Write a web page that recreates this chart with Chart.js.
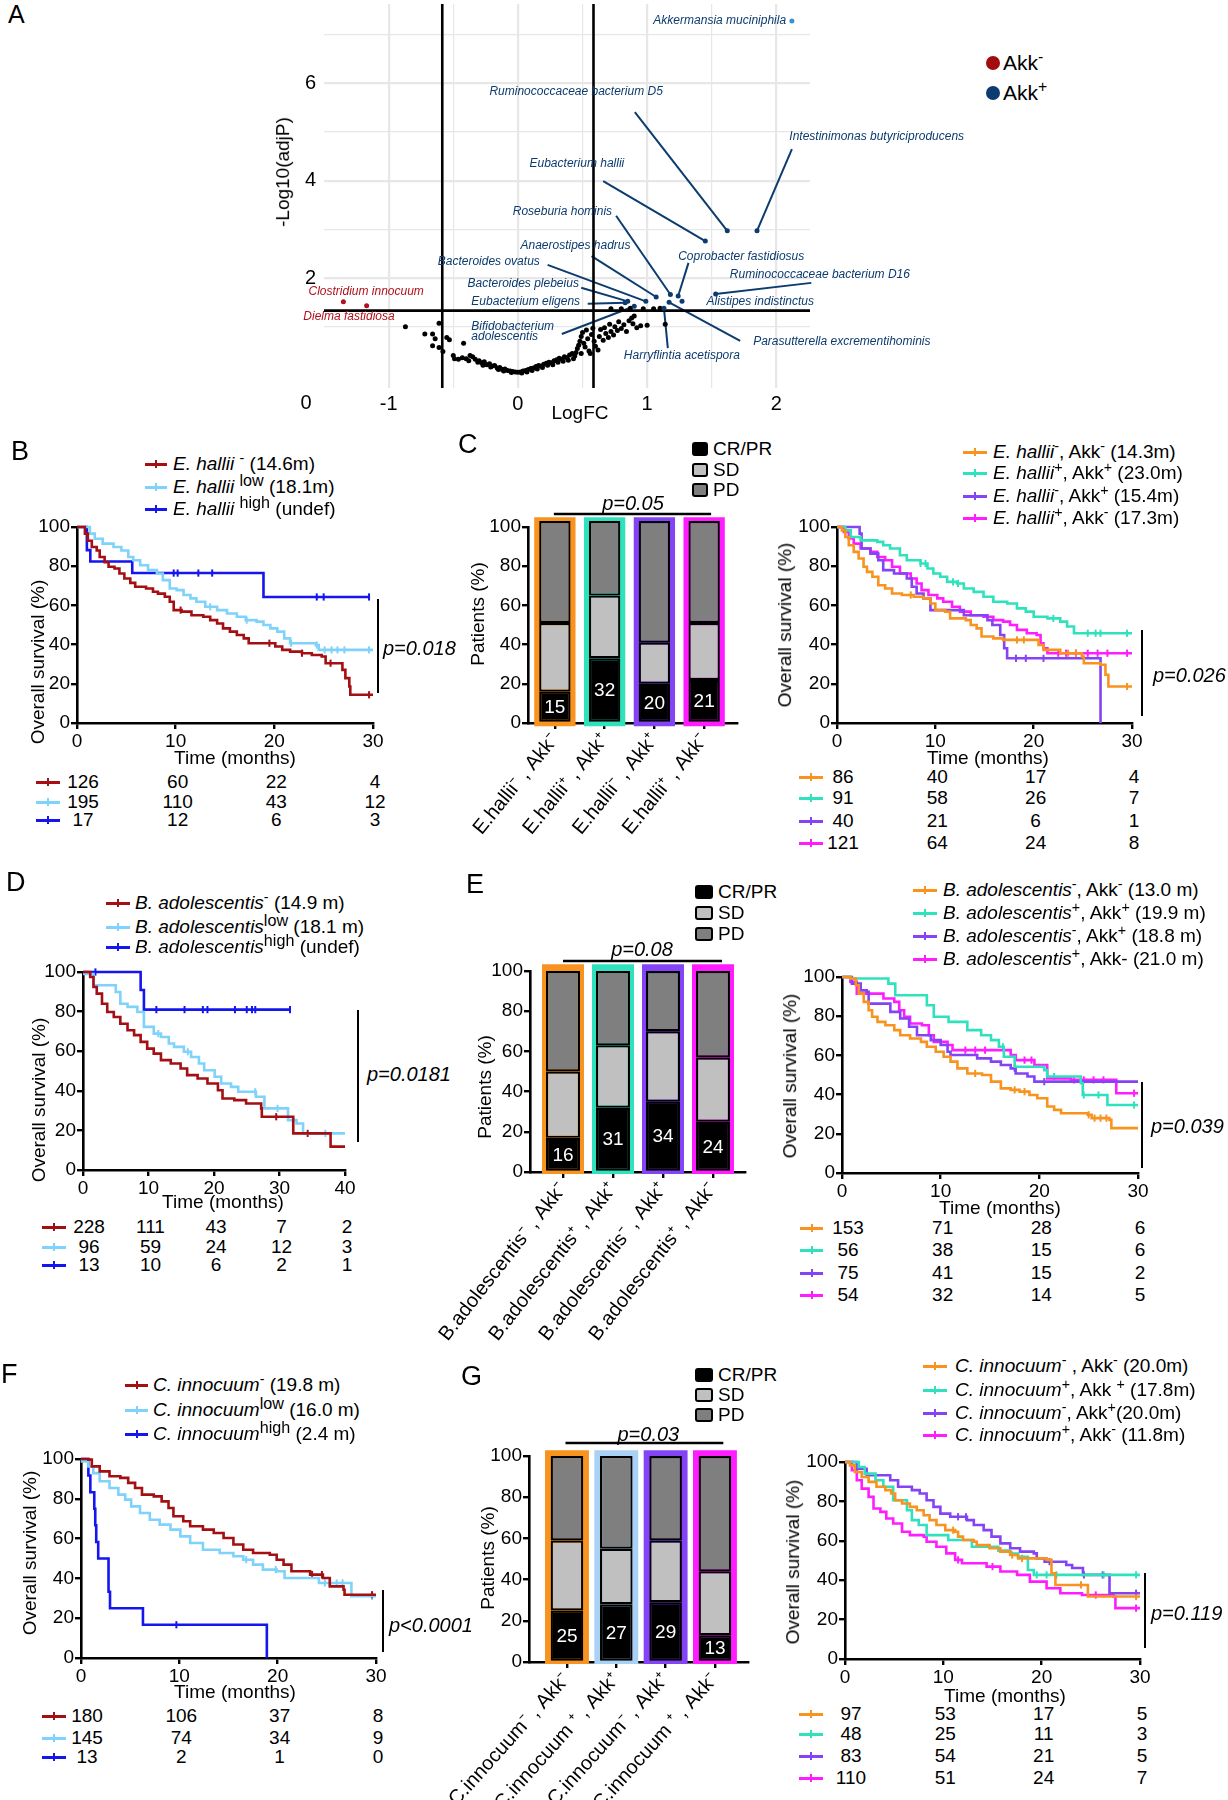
<!DOCTYPE html>
<html><head><meta charset="utf-8">
<script src="https://cdn.jsdelivr.net/npm/chart.js@4.4.1/dist/chart.umd.min.js"></script>
<style>
html,body{margin:0;padding:0;background:#fff}
body{position:relative;width:1228px;height:1800px;overflow:hidden;font-family:"Liberation Sans",Arial,Helvetica,sans-serif;color:#000}
.t{position:absolute;white-space:nowrap;line-height:1.15}
.t sup{font-size:0.75em;line-height:0;vertical-align:0.5em}
.t sup.w{font-size:0.85em;vertical-align:0.45em}
canvas{position:absolute}
</style></head><body>
<script>
// ======================= DATA =======================
// ---- Panel A : volcano ----
const volcTaxa = ['Akkermansia muciniphila','Ruminococcaceae bacterium D5','Intestinimonas butyriciproducens','Eubacterium hallii','Roseburia hominis','Anaerostipes hadrus','Coprobacter fastidiosus','Bacteroides ovatus','Ruminococcaceae bacterium D16','Bacteroides plebeius','Alistipes indistinctus','Eubacterium eligens','Bifidobacterium adolescentis','Parasutterella excrementihominis','Harryflintia acetispora','Clostridium innocuum','Dielma fastidiosa'];
const volcLogFC = [2.12,1.62,1.85,1.45,1.18,1.07,1.24,0.99,1.53,0.85,1.27,0.83,0.90,1.17,1.13,-1.35,-1.17];
const volcNegLog10P = [7.28,2.97,2.97,2.76,1.66,1.61,1.63,1.52,1.67,1.52,1.52,1.49,1.42,1.50,1.38,1.51,1.43];
const volcGroup = ['Akk','Akk+','Akk+','Akk+','Akk+','Akk+','Akk+','Akk+','Akk+','Akk+','Akk+','Akk+','Akk+','Akk+','Akk+','Akk-','Akk-'];
const volcLegend = ['Akk-','Akk+'];
const bgPoints = [[-0.87,1.00],[-0.61,1.07],[-0.72,0.85],[-0.66,0.85],[-0.64,0.75],[-0.66,0.61],[-0.61,0.57],[-0.58,0.49],[-0.55,0.78],[-0.53,0.73],[-0.42,0.66],[-0.50,0.41],[-0.49,0.34],[-0.46,0.33],[-0.43,0.36],[-0.40,0.34],[-0.37,0.41],[-0.38,0.30],[-0.35,0.38],[-0.33,0.33],[-0.31,0.27],[-0.30,0.30],[-0.28,0.26],[-0.27,0.21],[-0.26,0.28],[-0.24,0.22],[-0.22,0.24],[-0.21,0.17],[-0.20,0.19],[-0.18,0.20],[-0.16,0.15],[-0.15,0.12],[-0.14,0.16],[-0.12,0.12],[-0.11,0.09],[-0.10,0.13],[-0.08,0.10],[-0.06,0.09],[-0.05,0.06],[-0.04,0.08],[-0.02,0.07],[0.00,0.065],[0.02,0.07],[0.03,0.05],[0.04,0.09],[0.06,0.10],[0.07,0.07],[0.08,0.12],[0.10,0.14],[0.11,0.10],[0.12,0.15],[0.14,0.18],[0.15,0.13],[0.16,0.20],[0.18,0.19],[0.19,0.16],[0.20,0.23],[0.22,0.25],[0.23,0.21],[0.24,0.27],[0.26,0.26],[0.27,0.22],[0.28,0.30],[0.30,0.32],[0.31,0.27],[0.32,0.35],[0.34,0.33],[0.35,0.29],[0.36,0.38],[0.38,0.36],[0.39,0.31],[0.40,0.42],[0.42,0.45],[0.43,0.34],[0.44,0.40],[0.45,0.47],[0.46,0.55],[0.47,0.62],[0.48,0.70],[0.49,0.80],[0.49,0.45],[0.50,0.88],[0.51,0.66],[0.52,0.58],[0.53,0.93],[0.54,0.75],[0.55,0.50],[0.56,0.45],[0.57,0.84],[0.58,0.97],[0.59,0.70],[0.60,0.60],[0.62,0.52],[0.63,0.80],[0.64,0.94],[0.66,0.72],[0.67,0.98],[0.68,0.86],[0.70,0.78],[0.71,1.05],[0.72,0.90],[0.74,0.83],[0.75,1.00],[0.77,0.92],[0.78,1.10],[0.80,0.96],[0.82,1.04],[0.84,0.90],[0.86,1.12],[0.88,1.18],[0.89,1.06],[0.90,1.22],[0.92,0.98],[0.95,1.02],[1.00,1.03],[1.14,1.05],[0.72,1.37],[0.80,1.37],[0.87,1.38],[0.97,1.37],[1.05,1.37],[1.10,1.38]];
const fcCut = 0.585, pCut = 1.33;
const volcXTicks = [-1,-0.5,0,0.5,1,1.5,2];
const volcYTicks = [1,2,3,4,5,6,7];

// ---- KM common ----
const kmYTicks = [0,20,40,60,80,100];
const km30Ticks = [0,10,20,30];
const km40Ticks = [0,10,20,30,40];

// ---- Panel B ----
const bNeg = [[0,100],[0.4,100],[0.8,96.6],[1.1,93],[1.5,89.8],[2,88],[2.3,84.7],[2.8,82],[3.2,79.7],[3.8,78.8],[4.3,76.3],[4.8,73.7],[5.4,71.5],[5.9,69.5],[7.0,68.6],[7.7,67],[8.2,66],[8.9,64.4],[9.4,61.9],[9.8,57.6],[10.6,56.8],[11.6,55],[12.8,54.2],[13.5,52.5],[14.2,50.8],[14.8,48.3],[15.5,46.6],[16.2,44.9],[16.9,43.2],[17.4,40.7],[19.3,40.7],[20.1,39],[20.8,37.3],[21.6,36.4],[22.8,35.6],[23.8,34.7],[24.8,33.9],[25.2,30.5],[26.9,27.1],[27.2,22.9],[27.6,18.6],[27.7,14.4],[30,14.4]];
const bLow = [[0,100],[0.9,100],[1.3,96.6],[1.8,94],[2.6,91.5],[3.7,89.8],[4.5,88],[5.2,84.7],[5.7,83],[6.4,80.5],[7.2,78],[8.1,76.3],[8.7,72.9],[9.4,68.6],[10.1,67.8],[10.8,65.3],[11.5,63.6],[12.1,61.9],[13,59.3],[14.2,57.6],[15.2,55.9],[16.2,54.2],[17.1,52.5],[18.2,51.7],[18.9,50],[19.6,48.3],[20.3,46.6],[21,43.2],[21.6,40.7],[24.2,39.8],[24.5,37.3],[30,37.3]];
const bHigh = [[0,100],[1.0,88.2],[1.35,82.4],[5.6,76.5],[18.9,64.3],[29.6,64.3]];
const bNegCens = [10.5,19.5,22.8,25.7,29.6];
const bLowCens = [13.5,17.2,21.7,24.3,25.1,25.8,26.4,27.1,29.6];
const bHighCens = [9.8,10.2,12.3,13.7,24.3,25,29.6];
const bRisk = [[126,60,22,4],[195,110,43,12],[17,12,6,3]];
const bLegend = ['<i>E. hallii</i> <sup>-</sup> (14.6m)','<i>E. hallii</i> <sup class="w">low</sup> (18.1m)','<i>E. hallii</i> <sup class="w">high</sup> (undef)'];

// ---- Panel C (bars) ----
const respLabels = ['CR/PR','SD','PD'];
const cCats = ['E.hallii⁻ , Akk⁻','E.hallii⁺ , Akk⁺','E.hallii⁻ , Akk⁺','E.hallii⁺ , Akk⁻'];
const cCR = [16,33,20,22];
const cSD = [35,32,21,29];
const cPD = [52,38,62,52];
const cN = [15,32,20,21];

// ---- Panel C (KM) ----
const cOrange = [[0,100],[0.5,98.3],[0.85,94.9],[1.2,90.7],[1.7,87.3],[2.2,83.9],[2.7,79.7],[3.05,77.1],[3.6,74.6],[4.2,70.3],[4.9,68.6],[5.6,66.1],[6.6,65.3],[7.8,64.4],[8.8,63.6],[9.5,61],[10,57.6],[11,56.8],[11.5,53.4],[13.1,52.5],[13.6,50],[14.2,48.3],[14.7,44.1],[15.9,43.2],[16.9,42.4],[20.2,42.4],[20.5,39.8],[21,37.3],[22.7,35.6],[24.9,33.9],[25.1,30.5],[26.8,29.7],[27.3,24.6],[27.6,18.6],[30,18.6]];
const cTeal = [[0,100],[0.85,98.3],[1.4,94.9],[2.4,93.2],[4.1,92.4],[4.7,90.7],[5.4,89],[6.4,85.6],[7.1,83],[8.5,81.4],[9.2,78.8],[9.8,76.3],[10.5,74.6],[11.2,72],[12.2,71.2],[12.9,68.6],[13.9,66.9],[14.9,64.4],[15.9,61.9],[17.3,61],[18.3,58.5],[19.2,56.8],[20,54.2],[21.4,53.4],[22.7,51.7],[23.4,49.2],[24.1,45.8],[30,45.8]];
const cPurple = [[0,100],[2.3,96.6],[2.5,89],[3.4,86.4],[4.2,83],[4.7,78],[5.8,76.3],[7.1,73.7],[7.6,69.5],[8.1,66.1],[8.8,63.6],[9.5,57.6],[12.9,55],[15.3,52.5],[15.8,50],[16.6,44.9],[17,38.1],[17.3,33],[26.8,33],[26.8,0]];
const cMagenta = [[0,100],[0.7,97.5],[1.2,94.1],[1.7,91.5],[2.4,89],[3.4,87.3],[4.1,84.7],[4.9,83],[5.6,79.7],[6.4,76.3],[7.5,73.7],[8.1,71.2],[8.6,67.8],[9.3,65.3],[10.2,63.6],[10.8,61.9],[11.7,59.3],[12.5,56.8],[13.6,55],[14.9,54.2],[15.9,52.5],[16.9,51.7],[17.6,50],[18.3,47.5],[19.3,45.8],[20.3,44.9],[20.7,40.7],[21,38.1],[21.4,35.6],[30,35.6]];
const cOrangeCens = [7.5,18.3,19,23.5,24.3,29.5];
const cTealCens = [8.5,9,11.8,12.3,22,25.5,26.3,26.8,29.5];
const cPurpleCens = [18.2,19.2,21];
const cMagentaCens = [22.5,23.3,24.3,25.5,26.5,27.5,29.5];
const cRisk = [[86,40,17,4],[91,58,26,7],[40,21,6,1],[121,64,24,8]];
const cLegend = ['<i>E. hallii</i><sup>-</sup>, Akk<sup>-</sup> (14.3m)','<i>E. hallii</i><sup>+</sup>, Akk<sup>+</sup> (23.0m)','<i>E. hallii</i><sup>-</sup>, Akk<sup>+</sup> (15.4m)','<i>E. hallii</i><sup>+</sup>, Akk<sup>-</sup> (17.3m)'];

// ---- Panel D ----
const dNeg = [[0,100],[0.4,100],[1.1,97.5],[1.6,92.4],[2.1,89.1],[2.9,84],[3.7,79.8],[4.7,77.3],[5.7,73.9],[6.8,70.6],[7.8,68.1],[8.8,64.7],[9.8,61.3],[10.8,58.8],[11.9,55.5],[13.4,53.8],[14.9,51.3],[15.9,47.9],[17.5,46.2],[19,43.7],[20.6,40.3],[21.3,36.1],[23.1,35.3],[24.9,33.6],[27.2,31.1],[27.3,26.9],[31.3,26.9],[32.1,18.5],[37.7,18.5],[37.8,11.8],[40,11.8]];
const dLow = [[0,100],[0.2,99],[1.6,93.3],[4.2,93.3],[5,89.9],[5.7,84],[6.8,82.4],[8.3,79.8],[9.3,72.3],[10.8,68.9],[11.9,67.2],[13.1,63.9],[13.9,62.2],[15.4,59.7],[16.5,57.1],[17.7,53.8],[18.5,50.4],[20.1,47.1],[21.1,43.7],[22.6,42],[23.7,39.5],[26.4,37],[27.7,31.1],[30.8,31.1],[31.3,25.2],[32.6,23.5],[33.6,18.5],[40,18.5]];
const dHigh = [[0,100],[8.8,90.9],[9.3,81],[31.6,81]];
const dNegCens = [29.5,34.3];
const dLowCens = [11.5,16,26.3,29.7,37];
const dHighCens = [1.9,11.2,15.5,18.3,19,23.2,25,25.8,26.3,31.6];
const dRisk = [[228,111,43,7,2],[96,59,24,12,3],[13,10,6,2,1]];
const dLegend = ['<i>B. adolescentis</i><sup>-</sup> (14.9 m)','<i>B. adolescentis</i><sup class="w">low</sup> (18.1 m)','<i>B. adolescentis</i><sup class="w">high</sup> (undef)'];

// ---- Panel E (bars) ----
const eCats = ['B.adolescentis⁻ , Akk⁻','B.adolescentis⁺ , Akk⁺','B.adolescentis⁻ , Akk⁺','B.adolescentis⁺ , Akk⁻'];
const eCR = [17,32,35,25];
const eSD = [33,31,35,32];
const ePD = [50,37,30,43];
const eN = [16,31,34,24];

// ---- Panel E (KM) ----
const eOrange = [[0,100],[0.85,99.2],[1.4,95.8],[1.7,91.5],[2.2,87.3],[2.7,83],[3.05,79.7],[3.6,77.1],[4.4,75.4],[5.3,72.9],[5.9,70.3],[6.9,68.6],[8,66.9],[8.6,64.4],[9.5,61.9],[10.3,59.3],[11,56.8],[11.7,53.4],[12.7,50.8],[14.2,50],[15.1,46.6],[16.1,43.2],[17.1,42.4],[18,41.5],[19,39.8],[19.8,38.1],[20.8,33.9],[21.5,32.2],[22.2,30.5],[24.9,29.7],[25.3,28],[27.1,27.1],[27.3,22.9],[30,22.9]];
const eTeal = [[0,100],[0.85,99.2],[4.4,99.2],[4.7,96.6],[5.4,90.7],[8.3,90.7],[8.6,85.6],[9.3,79.7],[10.8,77.1],[12.7,72.9],[14.1,70.3],[15.1,67.8],[15.9,64.4],[16.4,59.3],[17.5,54.2],[20.5,52.5],[20.8,49.2],[22.9,49.2],[24.2,45.8],[24.4,39.8],[26.8,39.8],[26.9,34.7],[30,34.7]];
const ePurple = [[0,100],[1,96.6],[1.9,93.2],[2.5,92.4],[2.7,86.4],[3.9,86.4],[4.9,82.2],[5.9,78.8],[6.8,74.6],[7.6,70.3],[9,67.8],[10,65.3],[10.7,61.9],[11,60.2],[13.2,60.2],[13.7,58.5],[15.1,56.8],[16.1,55.1],[17.1,53.4],[17.6,50.8],[18.8,49.2],[19.5,46.6],[30,46.6]];
const eMagenta = [[0,100],[0.85,97.5],[1.5,91.5],[3.6,91.5],[4.2,89],[5.3,87.3],[5.8,83],[6.3,79.7],[6.9,76.3],[8.1,75.4],[8.8,70.3],[9.3,66.9],[10.7,65.3],[11.2,62.7],[17.1,60.2],[17.6,57.6],[19.5,55.1],[20.8,48.3],[23.2,47.5],[27.6,47.5],[27.8,40.7],[30,40.7]];
const eOrangeCens = [13.5,17.5,18.5,25,25.6,26.2,26.8];
const eTealCens = [16.3,21.5,24.5,26,29.6];
const ePurpleCens = [17.5,20.5];
const eMagentaCens = [12.5,13.5,14.5,18.5,19.2,23.5,24.5,25.5,26.5,29.6];
const eRisk = [[153,71,28,6],[56,38,15,6],[75,41,15,2],[54,32,14,5]];
const eLegend = ['<i>B. adolescentis</i><sup>-</sup>, Akk<sup>-</sup> (13.0 m)','<i>B. adolescentis</i><sup>+</sup>, Akk<sup>+</sup> (19.9 m)','<i>B. adolescentis</i><sup>-</sup>, Akk<sup>+</sup> (18.8 m)','<i>B. adolescentis</i><sup>+</sup>, Akk- (21.0 m)'];

// ---- Panel F ----
const fNeg = [[0,100],[0.75,99.7],[1.1,96.3],[1.9,93.8],[2.9,91.3],[4,90.5],[4.8,88],[5.5,85.4],[6.2,82.1],[7.4,81.2],[8.2,78.7],[8.9,75.4],[9.4,71.2],[10.4,68.7],[11.1,66.2],[12.4,64.5],[13.5,62.8],[14.5,60.3],[15.5,57],[16.5,54.4],[17.5,52.8],[19.2,51.9],[19.9,49.4],[20.6,46.9],[21.4,43.6],[23.3,41.9],[24.6,40.2],[25.3,36],[26.7,34.3],[26.8,31.8],[30,31.8]];
const fLow = [[0,100],[0.1,98.8],[0.75,96.3],[1.25,92.9],[1.9,88.8],[2.9,85.4],[3.8,82.1],[4.5,79.6],[5.1,76.2],[6,72.9],[7,69.5],[8,67],[9.1,64.5],[10.1,61.1],[11.1,57.8],[12.4,54.4],[14.1,52.8],[15.5,51.1],[16.5,49.4],[17.5,46.9],[18.5,44.4],[19.9,43.6],[20.7,40.2],[23.6,40.2],[24.2,37.7],[27.2,37.7],[27.5,31],[30,31]];
const fHigh = [[0,100],[0.75,91.7],[0.95,83.3],[1.35,75],[1.45,66.7],[1.55,58.3],[1.75,50],[2.8,33.3],[2.95,25],[6.3,16.7],[18.9,16.7],[18.9,0]];
const fNegCens = [23.5,24.5,29.6];
const fLowCens = [16.8,19.8,24.8,25.3,26,26.6,29.6];
const fHighCens = [9.7];
const fRisk = [[180,106,37,8],[145,74,34,9],[13,2,1,0]];
const fLegend = ['<i>C. innocuum</i><sup>-</sup> (19.8 m)','<i>C. innocuum</i><sup class="w">low</sup> (16.0 m)','<i>C. innocuum</i><sup class="w">high</sup> (2.4 m)'];

// ---- Panel G (bars) ----
const gCats = ['C.innocuum⁻ , Akk⁻','C.innocuum ⁺ , Akk⁺','C.innocuum⁻ , Akk⁺','C.innocuum ⁺ , Akk⁻'];
const gCR = [25,28,29,13];
const gSD = [34,27,30,31];
const gPD = [41,45,41,56];
const gN = [25,27,29,13];

// ---- Panel G (KM) ----
const gOrange = [[0,100],[0.5,98.3],[1,94.9],[1.7,92.4],[2.4,89.9],[3.2,87.4],[4.1,85.7],[4.7,84],[5.1,80.6],[5.8,78.9],[6.6,77.2],[7.3,75.5],[8,73],[8.6,70.5],[9.3,68],[10.2,65.4],[11.2,64.6],[11.5,62.1],[12,60.4],[13.1,59.5],[13.4,57.8],[14.7,56.2],[15.8,54.5],[16.8,52.8],[17.6,51.1],[20.5,50.3],[21,43.5],[21.4,37.6],[24.4,37.6],[24.7,31.7],[30,31.7]];
const gTeal = [[0,100],[1.4,97.5],[2,94.1],[3.1,90.7],[3.9,87.4],[4.9,80.6],[5.8,80.6],[6.3,75.5],[6.8,70.5],[7.5,68],[8.3,62.9],[9.8,62.9],[10.5,60.4],[12.7,60.4],[12.9,57],[15.1,57],[15.6,55],[16.8,53.5],[17.6,51.9],[18.6,45.2],[19.2,42.7],[30,42.7]];
const gPurple = [[0,100],[1.2,96.6],[2.2,93.3],[3.7,93.3],[4.6,90.7],[5.4,87.4],[6.8,85.7],[7.6,84],[8.3,80.6],[9,77.2],[9.7,73.8],[10.7,72.2],[12.4,70.5],[13.1,68],[14.1,65.4],[14.9,62.1],[15.8,58.7],[16.8,56.2],[17.8,54.5],[19.2,53.6],[19.5,51.1],[20.3,49.4],[22.5,47.7],[23.1,46.2],[24.2,42.7],[26.8,42.7],[26.9,33.4],[30,33.4]];
const gMagenta = [[0,100],[0.7,95.8],[1.2,90.7],[1.7,86.5],[2.4,82.3],[2.9,76.4],[3.6,74.7],[4.2,71.3],[4.9,68.8],[5.8,64.6],[6.6,62.9],[8,62.1],[8.3,59.5],[9.3,57],[10.3,53.6],[11.2,50.3],[11.9,48.6],[13.4,48.6],[14.4,46.9],[15.8,44.4],[17.5,42.7],[18.8,39.3],[20.5,35.9],[21.9,33.4],[24.1,32.5],[27.3,31.7],[27.5,25.8],[30,25.8]];
const gOrangeCens = [11,17,18,24,29.6];
const gTealCens = [19.5,20.5,21.5,26.3,29.6];
const gPurpleCens = [11.5,12.3,20.8,24.3,26.2,29.6];
const gMagentaCens = [11.5,15,25.5,29.6];
const gRisk = [[97,53,17,5],[48,25,11,3],[83,54,21,5],[110,51,24,7]];
const gLegend = ['<i>C. innocuum</i><sup>-</sup> , Akk<sup>-</sup> (20.0m)','<i>C. innocuum</i><sup>+</sup>, Akk <sup>+</sup> (17.8m)','<i>C. innocuum</i><sup>-</sup>, Akk<sup>+</sup>(20.0m)','<i>C. innocuum</i><sup>+</sup>, Akk<sup>-</sup> (11.8m)'];

// ======================= STYLE / LAYOUT =======================
const FONT = '"Liberation Sans", Arial, Helvetica, sans-serif';
const RED='#a30f12', LBLUE='#7fd3fb', BLUE='#1515ef', ORANGE='#f7931e', TEAL='#2fe2bd', PURPLE='#8443f4', MAGENTA='#ff1dff';
const NAVY='#0c3b6f', AKKRED='#b0121b', AKKBLUE='#3f8fd2';
const respColors = ['#000000','#c0c0c0','#7f7f7f'];
Chart.defaults.font.family = FONT;
Chart.defaults.color = '#000';

function box(x,y,w,h,bg,css){const d=document.createElement('div');d.style.cssText=`position:absolute;left:${x}px;top:${y}px;width:${w}px;height:${h}px;background:${bg};${css||''}`;document.body.appendChild(d);return d;}
function txt(x,y,html,o){o=o||{};const size=o.size||19,al=o.align||'l';const tx=al==='l'?'0':(al==='c'?'-50%':'-100%');const d=document.createElement('div');d.className='t';d.style.cssText=`left:${x}px;top:${y}px;font-size:${size}px;transform:translate(${tx},-50%)${o.rot?' rotate(-90deg)':''};${o.css||''}`;d.innerHTML=html;document.body.appendChild(d);return d;}
function sym(x1,x2,y,c){box(x1,y-1.5,x2-x1,3,c);box((x1+x2)/2-1,y-4,2.4,8,c);}
function stepAt(pts,t){let v=pts[0][1];for(const q of pts){if(q[0]<=t)v=q[1];else break;}return v;}

// Creates a chart whose plot area lands exactly on box b (page pixels); canvas size is corrected from the measured chartArea.
function place(b,m,mk){
  let W=Math.round(m.pl+m.yW+(b.R-b.L)+m.pr), H=Math.round(m.pt+(b.B-b.T)+m.xH+m.pb);
  let c=null,ch=null;
  for(let k=0;k<4;k++){
    if(ch){ch.destroy();c.remove();}
    c=document.createElement('canvas');c.width=W;c.height=H;
    c.style.cssText=`position:absolute;left:0px;top:0px;width:${W}px;height:${H}px;`;
    document.body.appendChild(c);
    const cfg=mk();const o=cfg.options;
    o.responsive=false;o.maintainAspectRatio=false;o.animation=false;o.devicePixelRatio=1;o.events=[];
    o.layout={autoPadding:false,padding:{left:m.pl,top:m.pt,right:m.pr,bottom:m.pb}};
    o.plugins=Object.assign({legend:{display:false},tooltip:{enabled:false},title:{display:false}},o.plugins||{});
    o.scales.x.afterFit=s=>{s.height=m.xH;s.paddingLeft=0;s.paddingRight=0;};
    o.scales.y.afterFit=s=>{s.width=m.yW;s.paddingTop=0;s.paddingBottom=0;};
    ch=new Chart(c,cfg);
    const a=ch.chartArea;
    const dw=Math.round((b.R-b.L)-(a.right-a.left)), dh=Math.round((b.B-b.T)-(a.bottom-a.top));
    if(dw===0&&dh===0)break;
    W+=dw;H+=dh;
  }
  const a=ch.chartArea;const left=b.L-a.left, top=b.T-a.top;
  c.style.left=left+'px';c.style.top=top+'px';
  ch.$ox=left;ch.$oy=top;return ch;
}
function fixedTicks(list){return s=>{s.ticks=list.map(v=>({value:v}));};}
function blackAxis(min,max,ticks,extra){
  return Object.assign({type:'linear',min,max,offset:false,afterBuildTicks:fixedTicks(ticks),
    grid:{drawOnChartArea:false,drawTicks:true,tickLength:6,color:'#000',lineWidth:2.4,offset:false},
    border:{display:true,color:'#000',width:2.6},
    ticks:{color:'#000',font:{family:FONT,size:19},padding:1,autoSkip:false,maxRotation:0,minRotation:0}},extra||{});
}

// ---------- Panel A ----------
(function(){
  const b={L:324,T:4,R:810,B:388};
  const X0=-1.5,X1=2.26,Y0=-0.26,Y1=7.63;
  const pts=g=>volcTaxa.map((n,i)=>({x:volcLogFC[i],y:volcNegLog10P[i],g:volcGroup[i]})).filter(p=>p.g===g);
  const labelPos={
    'Akkermansia muciniphila':{tx:2.075,ty:7.28,align:'right'},
    'Ruminococcaceae bacterium D5':{tx:-0.22,ty:5.82,lx:0.905,ly:5.41},
    'Intestinimonas butyriciproducens':{tx:2.10,ty:4.90,lx:2.12,ly:4.65},
    'Eubacterium hallii':{tx:0.09,ty:4.34,lx:0.66,ly:3.99},
    'Roseburia hominis':{tx:-0.04,ty:3.36,lx:0.76,ly:3.28},
    'Anaerostipes hadrus':{tx:0.02,ty:2.66,lx:0.57,ly:2.45},
    'Coprobacter fastidiosus':{tx:1.24,ty:2.43,lx:1.32,ly:2.31},
    'Bacteroides ovatus':{tx:-0.62,ty:2.33,lx:0.23,ly:2.27},
    'Ruminococcaceae bacterium D16':{tx:1.64,ty:2.06,lx:2.27,ly:1.90},
    'Bacteroides plebeius':{tx:-0.39,ty:1.88,lx:0.49,ly:1.80},
    'Alistipes indistinctus':{tx:1.46,ty:1.51},
    'Eubacterium eligens':{tx:-0.36,ty:1.51,lx:0.54,ly:1.47},
    'Bifidobacterium adolescentis':{tx:-0.36,ty:0.98,two:true,lx:0.34,ly:0.85},
    'Parasutterella excrementihominis':{tx:1.82,ty:0.69,lx:1.72,ly:0.71},
    'Harryflintia acetispora':{tx:0.82,ty:0.40,lx:1.16,ly:0.56},
    'Clostridium innocuum':{tx:-1.62,ty:1.71},
    'Dielma fastidiosa':{tx:-1.66,ty:1.20}
  };
  const deco={id:'volcDeco',
    beforeDatasetsDraw(ch){const X=ch.scales.x,Y=ch.scales.y,ctx=ch.ctx;ctx.save();ctx.strokeStyle=NAVY;ctx.lineWidth=2;
      volcTaxa.forEach((n,i)=>{const p=labelPos[n];if(p.lx==null)return;ctx.beginPath();ctx.moveTo(X.getPixelForValue(p.lx),Y.getPixelForValue(p.ly));ctx.lineTo(X.getPixelForValue(volcLogFC[i]),Y.getPixelForValue(volcNegLog10P[i]));ctx.stroke();});
      ctx.restore();},
    afterDatasetsDraw(ch){const X=ch.scales.x,Y=ch.scales.y,ctx=ch.ctx;ctx.save();ctx.font='italic 12px '+FONT;ctx.textBaseline='middle';
      volcTaxa.forEach((n,i)=>{const p=labelPos[n];ctx.fillStyle=volcGroup[i]==='Akk-'?AKKRED:NAVY;ctx.textAlign=p.align||'left';
        const x=X.getPixelForValue(p.tx),y=Y.getPixelForValue(p.ty);
        if(p.two){const w=n.split(' ');ctx.fillText(w[0],x,y-1);ctx.fillText(w[1],x,y+9);}else ctx.fillText(n,x,y);});
      ctx.restore();}
  };
  const sc=(data,col)=>({type:'scatter',data,pointRadius:2.5,pointBackgroundColor:col,pointBorderWidth:0,clip:false});
  const ln=(data)=>({type:'line',data,borderColor:'#000',borderWidth:2.6,pointRadius:0,clip:false});
  place(b,{yW:30,xH:30,pl:0,pt:4,pr:170,pb:0},()=>({type:'scatter',
    data:{datasets:[sc(pts('Akk'),AKKBLUE),sc(pts('Akk+'),NAVY),sc(pts('Akk-'),AKKRED),sc(bgPoints.map(p=>({x:p[0],y:p[1]})),'#000'),
      ln([{x:-fcCut,y:Y0},{x:-fcCut,y:Y1}]),ln([{x:fcCut,y:Y0},{x:fcCut,y:Y1}]),ln([{x:X0,y:pCut},{x:X1,y:pCut}])]},
    options:{scales:{
      x:{type:'linear',min:X0,max:X1,afterBuildTicks:fixedTicks(volcXTicks),grid:{color:'#e7e7e7',lineWidth:c=>Number.isInteger(c.tick.value)?2.2:1.2,drawTicks:false},border:{display:false},
         ticks:{callback:v=>Number.isInteger(v)?String(v):'',font:{size:20,family:FONT},color:'#000',padding:4,autoSkip:false,maxRotation:0}},
      y:{type:'linear',min:Y0,max:Y1,afterBuildTicks:fixedTicks(volcYTicks),grid:{color:'#e7e7e7',lineWidth:c=>c.tick.value%2===0?2.2:1.2,drawTicks:false},border:{display:false},
         ticks:{callback:v=>v%2===0?String(v):'',font:{size:20,family:FONT},color:'#000',padding:8}}}},
    plugins:[deco]}));
  txt(8,14,'A',{size:25});
  txt(283,172,'-Log10(adjP)',{align:'c',rot:true,size:19});
  txt(580,413,'LogFC',{align:'c',size:19});
  txt(306,402,'0',{align:'c',size:20});
  box(986,56,14,14,'#a10c0c','border-radius:50%');txt(1003,63,volcLegend[0].replace('-','<sup>-</sup>'),{size:21});
  box(986,86,14,14,NAVY,'border-radius:50%');txt(1003,93,volcLegend[1].replace('+','<sup>+</sup>'),{size:21});
})();

// ---------- KM builder ----------
function buildKM(p){
  const mk=()=>{
    const ds=[];
    p.curves.forEach(c=>ds.push({type:'line',data:c.pts.map(q=>({x:q[0],y:q[1]})),stepped:true,borderColor:c.color,borderWidth:2.6,pointRadius:0,fill:false,clip:false}));
    p.curves.forEach(c=>ds.push({type:'scatter',data:c.cens.map(t=>({x:t,y:stepAt(c.pts,t)})),showLine:false,pointStyle:'line',pointRadius:3.6,pointRotation:90,pointBorderColor:c.color,pointBackgroundColor:c.color,pointBorderWidth:2,clip:false}));
    return {type:'line',data:{datasets:ds},options:{scales:{x:blackAxis(0,p.xMax,p.xTicks),y:blackAxis(0,100,kmYTicks)}}};
  };
  const ch=place(p.box,{yW:44,xH:30,pl:0,pt:14,pr:16,pb:0},mk);
  p.legend.forEach((h,r)=>{sym(p.lg.sym[0],p.lg.sym[1],p.lg.rows[r],p.curves[r].color);txt(p.lg.x,p.lg.rows[r],h);});
  p.risk.forEach((row,r)=>{const y=p.rk.rows[r];sym(p.rk.sym[0],p.rk.sym[1],y,p.curves[r].color);
    row.forEach((n,k)=>{const px=ch.$ox+ch.scales.x.getPixelForValue(p.xTicks[k])+(k===0?6:2);txt(px,y,String(n),{align:'c'});});});
  txt(p.yt[0],p.yt[1],'Overall survival (%)',{align:'c',rot:true});
  txt(p.xt[0],p.xt[1],'Time (months)',{align:'c'});
  box(p.pv.x-1.3,p.pv.y0,2.6,p.pv.y1-p.pv.y0,'#000');
  txt(p.pv.tx,p.pv.ty,p.pv.text,{size:20,css:'font-style:italic'});
}

// ---------- Bar builder ----------
function buildBar(p){
  const idx=p.cats.map((_,i)=>i);
  const mk=()=>{
    const seg=(label,vals,col)=>({type:'bar',label,data:idx.map(i=>({x:i,y:vals[i]})),backgroundColor:col,borderColor:'#000',borderWidth:2.2,borderSkipped:false,barPercentage:p.barW,categoryPercentage:1,xAxisID:'x',yAxisID:'y',stack:'s',clip:false,order:1});
    const ds=[seg(respLabels[0],p.cr,respColors[0]),seg(respLabels[1],p.sd,respColors[1]),seg(respLabels[2],p.pd,respColors[2]),
      {type:'bar',label:'group',data:idx.map(i=>({x:i,y:[p.frameLo,p.frameHi]})),backgroundColor:p.frameColors,borderWidth:0,barPercentage:p.frameW,categoryPercentage:1,xAxisID:'x',yAxisID:'y2',stack:'s',clip:false,order:5}];
    const deco={id:'barDeco',afterDatasetsDraw(ch){const ctx=ch.ctx,X=ch.scales.x,Y=ch.scales.y;ctx.save();
      ctx.fillStyle='#fff';ctx.font='19px '+FONT;ctx.textAlign='center';ctx.textBaseline='middle';
      ch.getDatasetMeta(0).data.forEach((el,i)=>ctx.fillText(String(p.nums[i]),el.x,(el.y+el.base)/2+1));
      ctx.strokeStyle='#000';ctx.lineWidth=2.5;ctx.beginPath();ctx.moveTo(X.getPixelForValue(p.br.x0),Y.getPixelForValue(p.br.y));ctx.lineTo(X.getPixelForValue(p.br.x1),Y.getPixelForValue(p.br.y));ctx.stroke();
      ctx.fillStyle='#000';ctx.font='italic 20px '+FONT;ctx.fillText(p.br.text,X.getPixelForValue(p.br.tx),Y.getPixelForValue(p.br.ty));
      ctx.restore();}};
    const xAx=blackAxis(p.xMin,p.xMax,idx,{stacked:true});
    xAx.ticks=Object.assign({},xAx.ticks,{callback:v=>p.cats[v],minRotation:p.rot,maxRotation:p.rot,padding:0,font:{family:FONT,size:20}});
    const yAx=blackAxis(0,100,kmYTicks,{stacked:true});
    return {type:'bar',data:{datasets:ds},options:{scales:{x:xAx,y:yAx,y2:{type:'linear',display:false,position:'left',min:0,max:100,stacked:false}}},plugins:[deco]};
  };
  place(p.box,{yW:44,xH:p.xH,pl:p.pl,pt:50,pr:14,pb:0},mk);
  respLabels.forEach((lab,r)=>{const y=p.lg.rows[r];box(p.lg.sq[0],y-7,p.lg.sq[1]-p.lg.sq[0],14,respColors[r],'border:2px solid #000;border-radius:3px;box-sizing:border-box');txt(p.lg.x,y,lab);});
  txt(p.yt[0],p.yt[1],'Patients (%)',{align:'c',rot:true});
}

// ---------- Panels ----------
buildKM({box:{L:77,T:527,R:373,B:723},xMax:30,xTicks:km30Ticks,
  curves:[{pts:bNeg,cens:bNegCens,color:RED},{pts:bLow,cens:bLowCens,color:LBLUE},{pts:bHigh,cens:bHighCens,color:BLUE}],
  legend:bLegend,lg:{sym:[145,167],x:173,rows:[464,487,509]},risk:bRisk,rk:{sym:[36,60],rows:[782,802,820]},
  yt:[38,662],xt:[235,758],pv:{x:378,y0:599,y1:693,tx:383,ty:648,text:'p=0.018'}});
buildBar({box:{L:528,T:527,R:737,B:723},xMin:-0.54,xMax:3.66,cats:cCats,cr:cCR,sd:cSD,pd:cPD,nums:cN,
  frameColors:[ORANGE,TEAL,PURPLE,MAGENTA],frameLo:-1.7,frameHi:105,barW:0.63,frameW:0.83,rot:51,xH:120,pl:70,
  br:{x0:-0.02,x1:3.14,y:106.6,tx:1.57,ty:111.7,text:'p=0.05'},lg:{sq:[692,708],x:713,rows:[448.5,469.5,490]},yt:[478,614]});
buildKM({box:{L:837,T:527,R:1132,B:723},xMax:30,xTicks:km30Ticks,
  curves:[{pts:cOrange,cens:cOrangeCens,color:ORANGE},{pts:cTeal,cens:cTealCens,color:TEAL},{pts:cPurple,cens:cPurpleCens,color:PURPLE},{pts:cMagenta,cens:cMagentaCens,color:MAGENTA}],
  legend:cLegend,lg:{sym:[963,987],x:993,rows:[452,473,496,518]},risk:cRisk,rk:{sym:[799,823],rows:[777,798,821,843]},
  yt:[785,625],xt:[988,758],pv:{x:1142,y0:630,y1:716,tx:1153,ty:675,text:'p=0.026'}});

buildKM({box:{L:83,T:972,R:345,B:1170},xMax:40,xTicks:km40Ticks,
  curves:[{pts:dNeg,cens:dNegCens,color:RED},{pts:dLow,cens:dLowCens,color:LBLUE},{pts:dHigh,cens:dHighCens,color:BLUE}],
  legend:dLegend,lg:{sym:[106,130],x:135,rows:[903,927,947]},risk:dRisk,rk:{sym:[42,66],rows:[1227,1247,1265]},
  yt:[39,1100],xt:[223,1202],pv:{x:358,y0:1010,y1:1142,tx:367,ty:1074,text:'p=0.0181'}});
buildBar({box:{L:530,T:971,R:745,B:1172},xMin:-0.66,xMax:3.64,cats:eCats,cr:eCR,sd:eSD,pd:ePD,nums:eN,
  frameColors:[ORANGE,TEAL,PURPLE,MAGENTA],frameLo:-1,frameHi:103.3,barW:0.68,frameW:0.84,rot:52,xH:170,pl:100,
  br:{x0:0,x1:3.18,y:105,tx:1.58,ty:110.4,text:'p=0.08'},lg:{sq:[695,713],x:718,rows:[891.5,912.5,933.5]},yt:[485,1087]});
buildKM({box:{L:842,T:977,R:1138,B:1173},xMax:30,xTicks:km30Ticks,
  curves:[{pts:eOrange,cens:eOrangeCens,color:ORANGE},{pts:eTeal,cens:eTealCens,color:TEAL},{pts:ePurple,cens:ePurpleCens,color:PURPLE},{pts:eMagenta,cens:eMagentaCens,color:MAGENTA}],
  legend:eLegend,lg:{sym:[913,937],x:943,rows:[890,913,936,959]},risk:eRisk,rk:{sym:[800,823],rows:[1228,1250,1273,1295]},
  yt:[790,1076],xt:[1000,1208],pv:{x:1142,y0:1082,y1:1168,tx:1151,ty:1126,text:'p=0.039'}});

buildKM({box:{L:81,T:1459,R:376,B:1658},xMax:30,xTicks:km30Ticks,
  curves:[{pts:fNeg,cens:fNegCens,color:RED},{pts:fLow,cens:fLowCens,color:LBLUE},{pts:fHigh,cens:fHighCens,color:BLUE}],
  legend:fLegend,lg:{sym:[125,148],x:153,rows:[1385,1410,1434]},risk:fRisk,rk:{sym:[42,66],rows:[1716,1738,1757]},
  yt:[30,1553],xt:[235,1692],pv:{x:383,y0:1590,y1:1652,tx:389,ty:1625,text:'p&lt;0.0001'}});
buildBar({box:{L:529,T:1456,R:748,B:1662},xMin:-0.77,xMax:3.67,cats:gCats,cr:gCR,sd:gSD,pd:gPD,nums:gN,
  frameColors:[ORANGE,'#a9d1f3',PURPLE,MAGENTA],frameLo:-1,frameHi:102.8,barW:0.66,frameW:0.89,rot:48,xH:138,pl:80,
  br:{x0:-0.03,x1:3.17,y:106.3,tx:1.65,ty:109.9,text:'p=0.03'},lg:{sq:[695,713],x:718,rows:[1375,1395,1415]},yt:[488,1558]});
buildKM({box:{L:845,T:1462,R:1140,B:1659},xMax:30,xTicks:km30Ticks,
  curves:[{pts:gOrange,cens:gOrangeCens,color:ORANGE},{pts:gTeal,cens:gTealCens,color:TEAL},{pts:gPurple,cens:gPurpleCens,color:PURPLE},{pts:gMagenta,cens:gMagentaCens,color:MAGENTA}],
  legend:gLegend,lg:{sym:[923,947],x:955,rows:[1366,1390,1413,1435]},risk:gRisk,rk:{sym:[799,823],rows:[1714,1734,1756,1778]},
  yt:[793,1562],xt:[1005,1696],pv:{x:1145,y0:1573,y1:1648,tx:1151,ty:1613,text:'p=0.119'}});

// panel letters
txt(11,452,'B',{size:27});txt(458,445,'C',{size:27});
txt(6,883,'D',{size:27});txt(466,885,'E',{size:27});
txt(1,1375,'F',{size:27});txt(461,1377,'G',{size:27});
</script></body></html>
